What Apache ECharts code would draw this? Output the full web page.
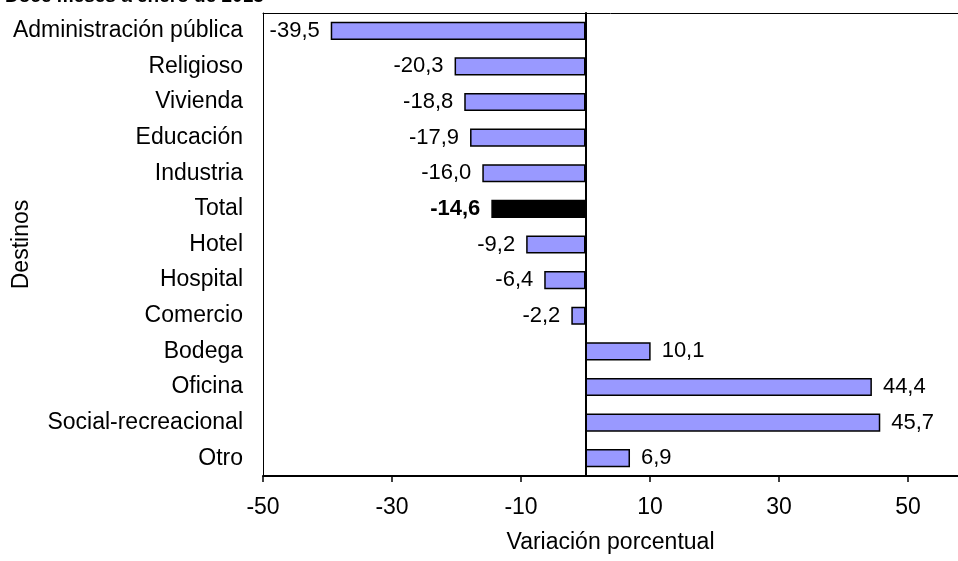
<!DOCTYPE html>
<html>
<head>
<meta charset="utf-8">
<script src="https://cdn.jsdelivr.net/npm/echarts@6/dist/echarts.min.js"></script>
<style>
  html, body { margin: 0; padding: 0; background: #fff; }
  #chart { width: 958px; height: 561px; }
</style>
</head>
<body>
<div id="chart"></div>
<script>
// destinos, de arriba hacia abajo
const destinos = ['Administración pública', 'Religioso', 'Vivienda', 'Educación', 'Industria', 'Total',
    'Hotel', 'Hospital', 'Comercio', 'Bodega', 'Oficina', 'Social-recreacional', 'Otro'];
const variacion = [-39.5, -20.3, -18.8, -17.9, -16.0, -14.6, -9.2, -6.4, -2.2, 10.1, 44.4, 45.7, 6.9];
const destacado = 'Total';

const FONT = 'Liberation Sans, Arial, sans-serif';

const chart = echarts.init(document.getElementById('chart'));

let data = destinos.map(function (d, i) {
    let v = variacion[i];
    let esTotal = d === destacado;
    return {
        value: v,
        itemStyle: { color: esTotal ? '#000' : '#9999FF' },
        label: {
            position: v < 0 ? 'left' : 'right',
            fontWeight: esTotal ? 'bold' : 'normal'
        }
    };
});

let option = {
    backgroundColor: '#FFFFFF',
    animation: false,
    title: {
        text: 'Doce meses a enero de 2013',
        left: 0,
        top: -18,
        textStyle: { fontFamily: FONT, fontSize: 19, fontWeight: 'bold', color: '#000' }
    },
    grid: { left: 263, top: 13, bottom: 85, right: 0, containLabel: false, outerBoundsMode: 'none' },
    xAxis: [{
        type: 'value',
        min: -50, max: 57.75, interval: 20,
        splitLine: { show: false },
        axisLine: { show: true, onZero: false, lineStyle: { color: '#000', width: 2 } },
        axisTick: { show: true, length: 6, lineStyle: { color: '#000', width: 1.5 } },
        axisLabel: {
            showMaxLabel: false, color: '#000', fontFamily: FONT, fontSize: 23, margin: 20
        },
        name: 'Variación porcentual',
        nameLocation: 'middle',
        nameGap: 55,
        nameMoveOverlap: false,
        nameTextStyle: { color: '#000', fontFamily: FONT, fontSize: 23 }
    }, {
        // borde superior del área
        type: 'value',
        position: 'top',
        min: -50, max: 57.75,
        splitLine: { show: false },
        axisLine: { show: true, onZero: false, lineStyle: { color: '#000', width: 1 } },
        axisTick: { show: false },
        axisLabel: { show: false }
    }],
    yAxis: [{
        type: 'category',
        data: destinos,
        inverse: true,
        axisLine: { onZero: false, lineStyle: { color: '#000', width: 1 } },
        axisTick: { show: false },
        axisLabel: { color: '#000', fontFamily: FONT, fontSize: 23, margin: 20 },
        name: 'Destinos',
        nameLocation: 'middle',
        nameRotate: 90,
        nameGap: 230,
        nameMoveOverlap: false,
        nameTextStyle: { color: '#000', fontFamily: FONT, fontSize: 23 }
    }, {
        type: 'category',
        data: destinos,
        inverse: true,
        position: 'left',
        axisLine: { onZero: true, lineStyle: { color: '#000', width: 2 } },
        axisTick: { length: 8, lineStyle: { color: '#000', width: 1.5 } },
        axisLabel: { show: false }
    }],
    series: [{
        type: 'bar',
        yAxisIndex: 0,
        data: data,
        barCategoryGap: '49%',
        itemStyle: { borderColor: '#000', borderWidth: 1.5 },
        label: {
            show: true,
            distance: 11,
            color: '#000',
            fontFamily: FONT,
            fontSize: 22,
            formatter: function (p) {
                return p.value.toFixed(1).replace('.', ',');
            }
        }
    }]
};

chart.setOption(option);
</script>
</body>
</html>
